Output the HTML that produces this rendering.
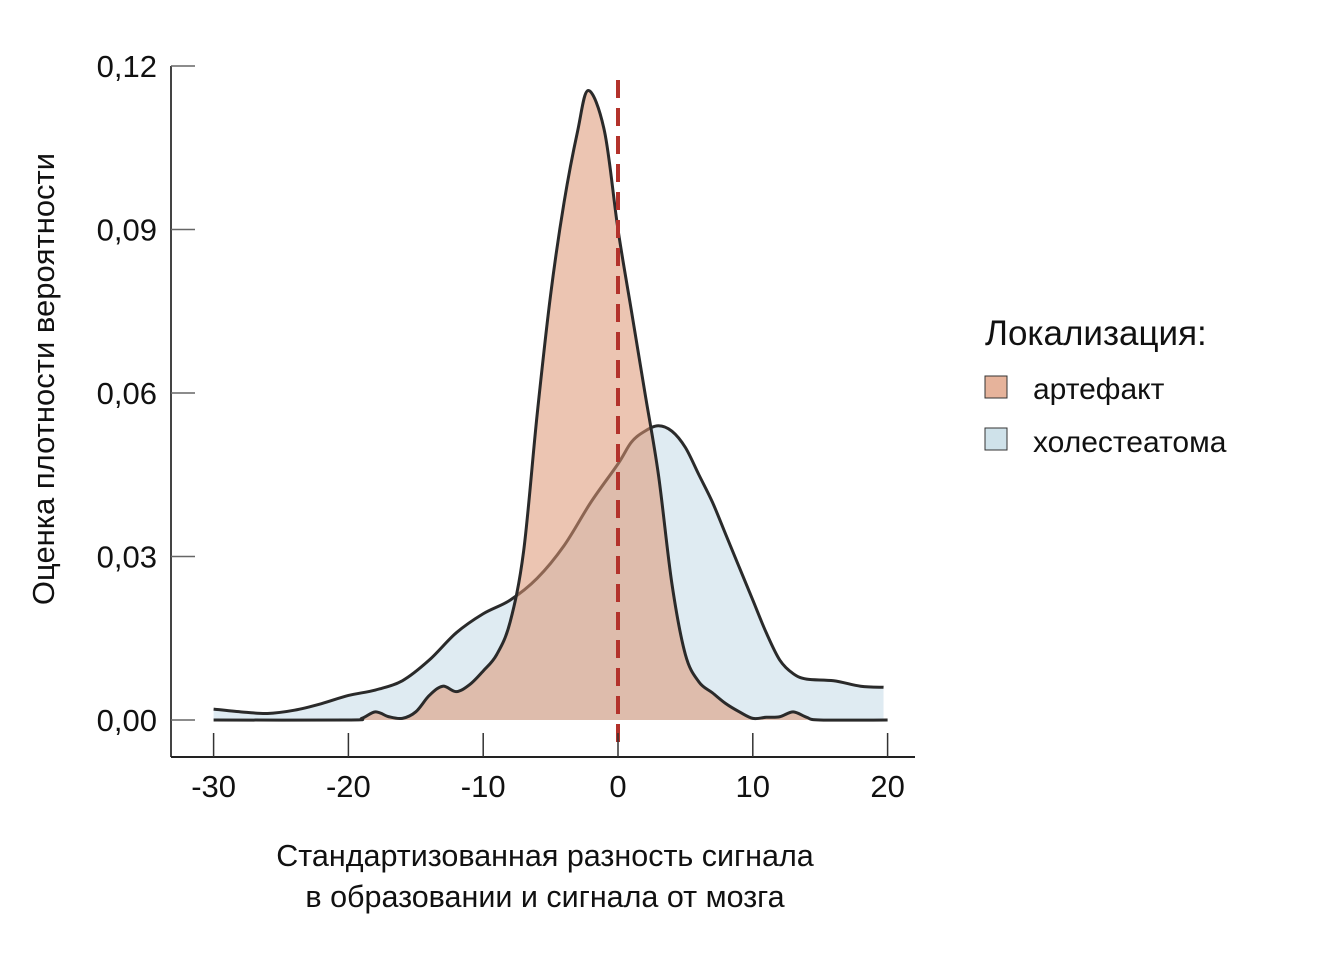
<!DOCTYPE html>
<html><head><meta charset="utf-8"><style>
body{margin:0;background:#fff;font-family:"Liberation Sans","DejaVu Sans",sans-serif}
svg text{font-family:"Liberation Sans","DejaVu Sans",sans-serif;fill:#111}
</style></head><body>
<svg id="c" width="1337" height="948" xmlns="http://www.w3.org/2000/svg">
<g id="plot"></g>
<line x1="171" y1="66" x2="171" y2="757" stroke="#444" stroke-width="2"/>
<line x1="171" y1="757" x2="915" y2="757" stroke="#222" stroke-width="2"/>
<g id="axes"></g>
<text x="545" y="866" font-size="30.5" text-anchor="middle">Стандартизованная разность сигнала</text>
<text x="545" y="907" font-size="30.5" text-anchor="middle">в образовании и сигнала от мозга</text>
<text transform="translate(54,379) rotate(-90)" font-size="31" text-anchor="middle">Оценка плотности вероятности</text>
<g>
<text x="985" y="345" font-size="35">Локализация:</text>
<rect x="985" y="376" width="22" height="22" fill="#e6b39b" stroke="#333" stroke-width="1"/>
<text x="1033" y="399" font-size="30">артефакт</text>
<rect x="985" y="428" width="22" height="22" fill="#cfe2ea" stroke="#333" stroke-width="1"/>
<text x="1033" y="452" font-size="30">холестеатома</text>
</g>
</svg>
<script>
const xTicks=[-30,-20,-10,0,10,20];
const yTicks=[0,0.03,0.06,0.09,0.12];
const yTickLabels=["0,00","0,03","0,06","0,09","0,12"];
const artX=[-30,-20,-19,-18,-17,-16,-15,-14,-13,-12,-11,-10,-9,-8,-7,-6,-5,-4,-3,-2.2,-1,0,1,2,3,4,5,6,7,8,9,10,11,12,13,14,15,20];
const artY=[0,0,0.0003,0.0015,0.0006,0.0003,0.0015,0.0045,0.0062,0.0052,0.0065,0.009,0.012,0.018,0.031,0.056,0.078,0.095,0.108,0.1155,0.108,0.09,0.075,0.06,0.045,0.025,0.012,0.007,0.005,0.003,0.0015,0.0003,0.0005,0.0006,0.0015,0.0005,0,0];
const cholX=[-30,-28,-26,-24,-22,-20,-18,-16,-14,-12,-10,-8,-6,-4,-2,0,1,2,3,4,5,6,7,8,9,10,11,12,13,14,16,18,19.7];
const cholY=[0.002,0.0015,0.0012,0.0018,0.003,0.0045,0.0055,0.0072,0.011,0.016,0.0195,0.022,0.026,0.032,0.04,0.047,0.051,0.053,0.054,0.053,0.05,0.045,0.04,0.034,0.028,0.022,0.016,0.011,0.0085,0.0075,0.0072,0.0062,0.006];
const NS="http://www.w3.org/2000/svg";
const sx=v=>618+v*13.48;
const sy=v=>720-v*5450;
function path(xs,ys){
 const p=xs.map((x,i)=>[sx(x),sy(ys[i])]);
 let d="M"+p[0][0]+","+p[0][1];
 for(let i=0;i<p.length-1;i++){
  const p0=p[i-1]||p[i],p1=p[i],p2=p[i+1],p3=p[i+2]||p[i+1];
  const c1=[p1[0]+(p2[0]-p0[0])/6,p1[1]+(p2[1]-p0[1])/6];
  const c2=[p2[0]-(p3[0]-p1[0])/6,p2[1]-(p3[1]-p1[1])/6];
  d+=`C${c1[0]},${c1[1]} ${c2[0]},${c2[1]} ${p2[0]},${p2[1]}`;
 }
 return d;
}
function mk(tag,attrs,parent){const e=document.createElementNS(NS,tag);for(const k in attrs)e.setAttribute(k,attrs[k]);parent.appendChild(e);return e;}
const plot=document.getElementById('plot');
const axes=document.getElementById('axes');
const cd=path(cholX,cholY), ad=path(artX,artY);
let e;
e=mk('path',{d:cd+`L${sx(cholX[cholX.length-1])},${sy(0)}L${sx(cholX[0])},${sy(0)}Z`,fill:'#dfebf2'},plot);


e=mk('path',{d:cd,fill:'none',stroke:'#2a2a2a','stroke-width':3},plot);


e=mk('path',{d:ad+`L${sx(artX[artX.length-1])},${sy(0)}L${sx(artX[0])},${sy(0)}Z`,fill:'rgba(220,150,115,0.55)'},plot);


e=mk('path',{d:ad,fill:'none',stroke:'#2a2a2a','stroke-width':3},plot);


e=mk('line',{x1:sx(0),y1:80,x2:sx(0),y2:748,stroke:'#b3322b','stroke-width':4,'stroke-dasharray':'18 10'},plot);


xTicks.forEach(t=>{
 let l=mk('line',{x1:sx(t),y1:733,x2:sx(t),y2:757,stroke:'#333','stroke-width':1.5},axes);
 
 
 let tx=mk('text',{x:sx(t),y:797,'font-size':31,'text-anchor':'middle'},axes);
 tx.textContent=String(t);
 
 
});
yTicks.forEach((t,i)=>{
 let l=mk('line',{x1:171,y1:sy(t),x2:195,y2:sy(t),stroke:'#666','stroke-width':1.5},axes);
 
 
 let tx=mk('text',{x:157,y:sy(t)+11,'font-size':31,'text-anchor':'end'},axes);
 tx.textContent=yTickLabels[i];
 
 
});
</script>
</body></html>
